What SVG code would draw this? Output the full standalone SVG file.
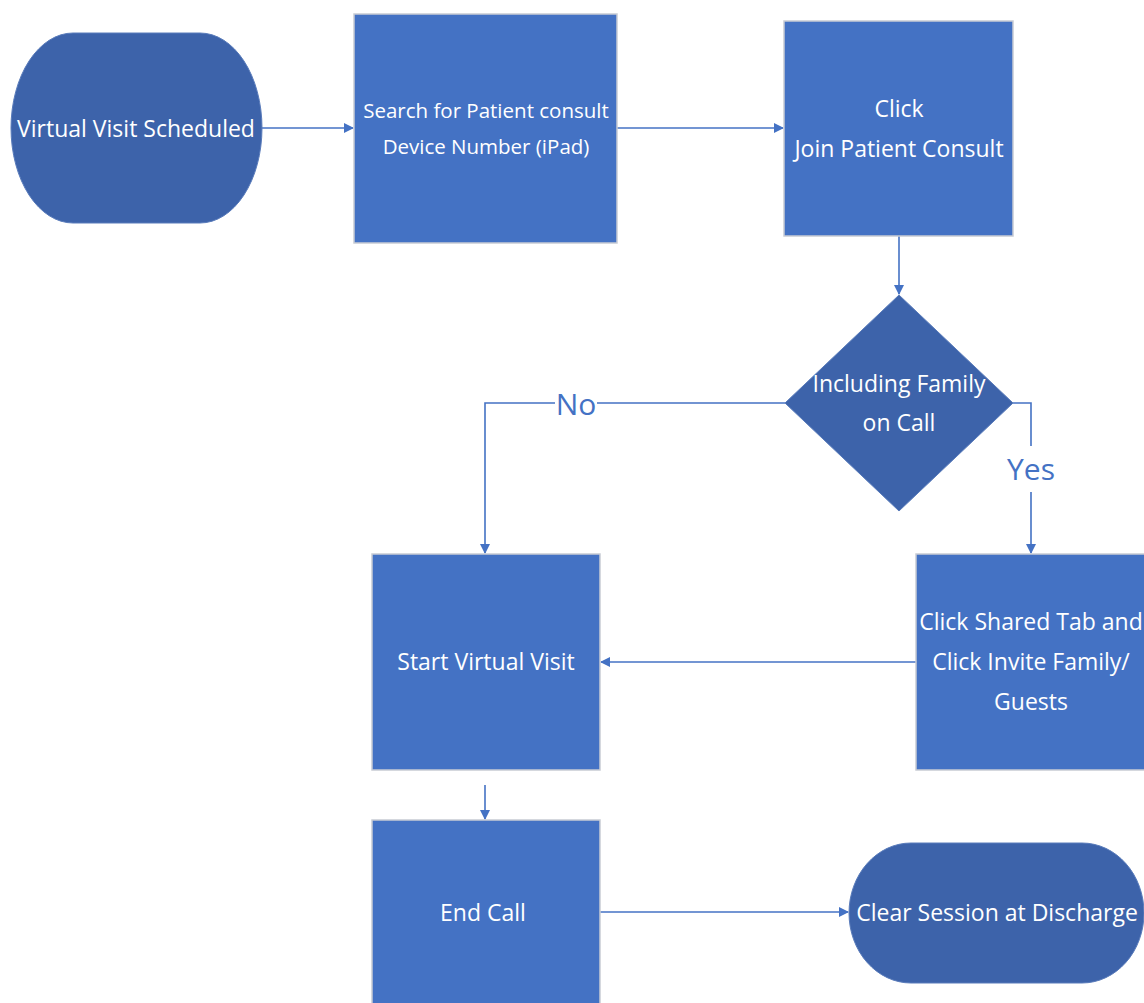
<svg xmlns="http://www.w3.org/2000/svg" width="1144" height="1003" viewBox="0 0 1144 1003">
<style>
.box{fill:#4472C4;stroke:#C8CCD4;stroke-width:1.5}
.term{fill:#3D63AA;stroke:#5A7CBB;stroke-width:1}
.t{font-family:"Open Sans","Liberation Sans",sans-serif;fill:#fff;text-anchor:middle}
.lbl{font-family:"Open Sans","Liberation Sans",sans-serif;fill:#4472C4;text-anchor:middle;font-size:30px}
.c{fill:none;stroke:#4472C4;stroke-width:1.6}
</style>
<defs>
<marker id="ah" markerWidth="10" markerHeight="10" refX="9" refY="5" orient="auto" markerUnits="userSpaceOnUse">
<path d="M0,0 L10,5 L0,10 Z" fill="#4472C4"/>
</marker>
</defs>
<rect width="1144" height="1003" fill="#fff"/>
<g id="connectors">
<path class="c" d="M262,128 H353" marker-end="url(#ah)"/>
<path class="c" d="M617,128 H783" marker-end="url(#ah)"/>
<path class="c" d="M899,236 V294" marker-end="url(#ah)"/>
<path class="c" d="M785,403 H485 V553" marker-end="url(#ah)"/>
<path class="c" d="M1013,403 H1031 V553" marker-end="url(#ah)"/>
<path class="c" d="M916,662 H601" marker-end="url(#ah)"/>
<path class="c" d="M485,785 V819" marker-end="url(#ah)"/>
<path class="c" d="M600,912 H848" marker-end="url(#ah)"/>
<rect x="555" y="385" width="42" height="36" fill="#fff"/>
<text class="lbl" x="576" y="415">No</text>
<rect x="1006" y="446" width="52" height="46" fill="#fff"/>
<text class="lbl" x="1031" y="480">Yes</text>
</g>
<g id="n1">
<rect class="term" x="11" y="33" width="251" height="190" rx="62" ry="95"/>
<text class="t" x="136" y="137" font-size="23">Virtual Visit Scheduled</text>
</g>
<g id="n2">
<rect class="box" x="354" y="14" width="263" height="229"/>
<text class="t" x="486" y="118" font-size="20.5">Search for Patient consult</text>
<text class="t" x="486" y="154" font-size="20.5">Device Number (iPad)</text>
</g>
<g id="n3">
<rect class="box" x="784" y="21" width="229" height="215"/>
<text class="t" x="899" y="117" font-size="23">Click</text>
<text class="t" x="899" y="157" font-size="23">Join Patient Consult</text>
</g>
<g id="n4">
<path class="term" d="M899,295 L1013,403 L899,511 L785,403 Z"/>
<text class="t" x="899" y="392" font-size="23">Including Family</text>
<text class="t" x="899" y="431" font-size="23">on Call</text>
</g>
<g id="n5">
<rect class="box" x="372" y="554" width="228" height="216"/>
<text class="t" x="486" y="670" font-size="23">Start Virtual Visit</text>
</g>
<g id="n6">
<rect class="box" x="916" y="554" width="240" height="216"/>
<text class="t" x="1031" y="630" font-size="23">Click Shared Tab and</text>
<text class="t" x="1031" y="670" font-size="23">Click Invite Family/</text>
<text class="t" x="1031" y="710" font-size="23">Guests</text>
</g>
<g id="n7">
<rect class="box" x="372" y="820" width="228" height="200"/>
<text class="t" x="483" y="921" font-size="23">End Call</text>
</g>
<g id="n8">
<rect class="term" x="849" y="843" width="295" height="140" rx="62" ry="70"/>
<text class="t" x="997" y="921" font-size="23">Clear Session at Discharge</text>
</g>
</svg>
